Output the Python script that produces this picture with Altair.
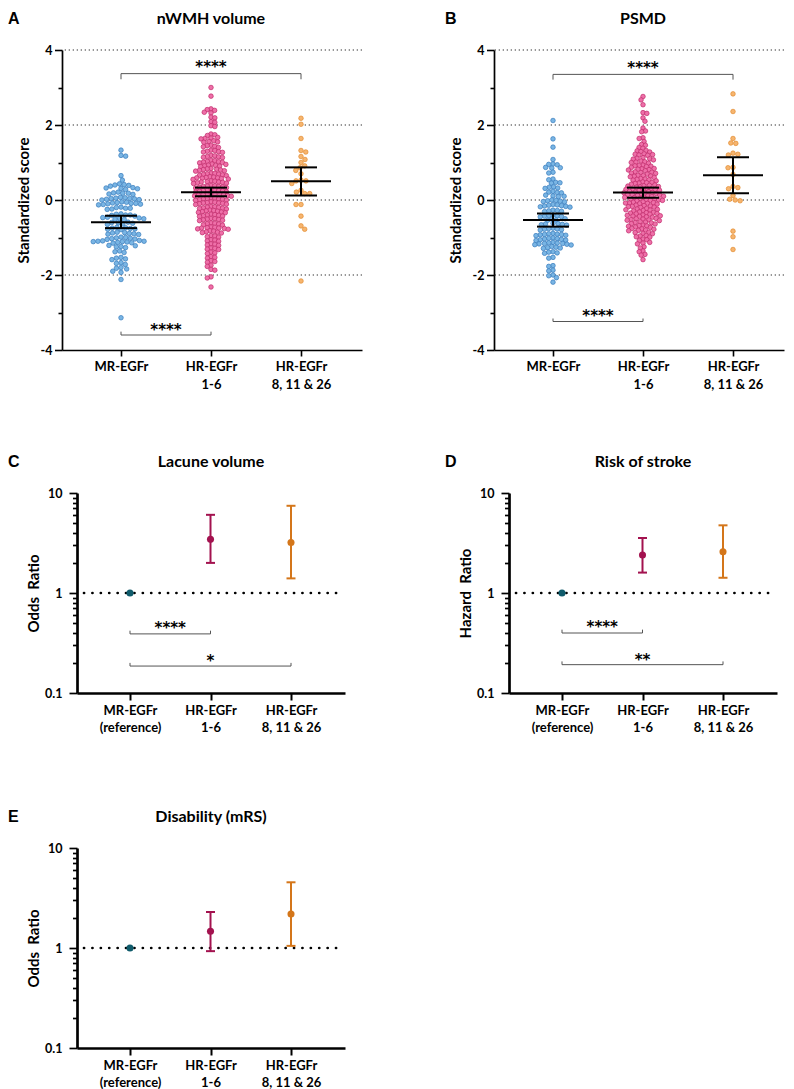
import math
import altair as alt
import pandas as pd

FONT = "Lato"
LETTER_FONT = "Liberation Sans"
STAR_FONT = "DejaVu Sans"

GROUPS = [1, 2, 3]
SWARM_LABELS = "datum.value == 1 ? 'MR-EGFr' : datum.value == 2 ? ['HR-EGFr', '1-6'] : ['HR-EGFr', '8, 11 & 26']"
OR_LABELS = "datum.value == 1 ? ['MR-EGFr', '(reference)'] : datum.value == 2 ? ['HR-EGFr', '1-6'] : ['HR-EGFr', '8, 11 & 26']"
Y_TICKS = [-4, -3, -2, -1, 0, 1, 2, 3, 4]
GRID_VALUES = [4, 2, 0, -2]
LOG_TICKS = [0.1, 0.2, 0.3, 0.4, 0.5, 0.6, 0.7, 0.8, 0.9, 1, 2, 3, 4, 5, 6, 7, 8, 9, 10]

SWARM_FILL = ["#79b5e4", "#ee6fa8", "#f6b56f"]
SWARM_STROKE = ["#3a7dbd", "#c02a6a", "#e38b2f"]
OR_COLORS = ["#0f5b6b", "#a3124f", "#d4761a"]

# ---------------- Panel A: nWMH volume ----------------
A_MR = [1.33, 1.19, 1.17,
        0.65, 0.53,
        0.43, 0.41, 0.40, 0.39, 0.37,
        0.33, 0.32, 0.31, 0.30, 0.28,
        0.21, 0.19, 0.18, 0.18, 0.16, 0.15,
        0.07, 0.06, 0.05, 0.04, 0.04, 0.03, 0.02, 0.01, 0.00,
        -0.05, -0.06, -0.07, -0.08, -0.09, -0.09, -0.10, -0.11, -0.12, -0.13,
        -0.19, -0.20, -0.22, -0.22, -0.24, -0.25,
        -0.37, -0.38, -0.40, -0.40, -0.41, -0.43,
        -0.46, -0.47, -0.48, -0.49, -0.50, -0.51, -0.52,
        -0.59, -0.60, -0.61, -0.62, -0.64, -0.65,
        -0.73, -0.74, -0.75, -0.76, -0.77, -0.78, -0.79,
        -0.86, -0.87, -0.88, -0.89, -0.90, -0.91, -0.92,
        -0.99, -1.00, -1.01, -1.02, -1.03, -1.04, -1.05,
        -1.08, -1.09, -1.10, -1.10, -1.11, -1.11, -1.12, -1.13, -1.14, -1.15,
        -1.21, -1.22, -1.24, -1.25, -1.27,
        -1.36, -1.38, -1.40,
        -1.53, -1.55, -1.57, -1.59,
        -1.67, -1.69, -1.72,
        -1.80, -1.82, -1.84,
        -1.90, -1.93,
        -2.12, -3.14]
A_HR16 = [3.00, 2.77,
          2.43, 2.41, 2.39, 2.34, 2.32, 2.21, 2.19, 2.09, 2.07, 1.98, 1.96,
          1.76, 1.74, 1.72,
          1.67, 1.65, 1.64, 1.63,
          1.58, 1.56, 1.55, 1.54,
          1.46, 1.45, 1.43, 1.42, 1.40,
          1.33, 1.32, 1.30, 1.29, 1.28, 1.27,
          1.19, 1.18, 1.16, 1.15, 1.14, 1.13,
          1.06, 1.05, 1.03, 1.02, 1.01, 1.00, 0.99,
          0.96, 0.95, 0.93, 0.92, 0.91, 0.90, 0.89,
          0.84, 0.83, 0.82, 0.81, 0.80, 0.79, 0.78, 0.77,
          0.72, 0.71, 0.70, 0.69, 0.68, 0.67, 0.66, 0.65,
          0.62, 0.61, 0.60, 0.59, 0.59, 0.58, 0.57, 0.56, 0.55,
          0.51, 0.50, 0.49, 0.48, 0.48, 0.47, 0.46, 0.45, 0.44,
          0.39, 0.38, 0.37, 0.36, 0.36, 0.35, 0.34, 0.33, 0.32,
          0.28, 0.27, 0.26, 0.25, 0.25, 0.24, 0.23, 0.22, 0.21,
          0.17, 0.16, 0.15, 0.15, 0.14, 0.14, 0.13, 0.12, 0.11, 0.10,
          0.06, 0.05, 0.04, 0.03, 0.03, 0.02, 0.01, 0.00, -0.01,
          -0.05, -0.06, -0.07, -0.08, -0.08, -0.09, -0.10, -0.11, -0.12,
          -0.17, -0.18, -0.19, -0.20, -0.21, -0.22, -0.23, -0.24,
          -0.27, -0.28, -0.29, -0.30, -0.31, -0.32, -0.33, -0.34,
          -0.38, -0.39, -0.40, -0.41, -0.42, -0.43, -0.44,
          -0.49, -0.50, -0.51, -0.52, -0.53, -0.54, -0.55,
          -0.61, -0.62, -0.63, -0.64, -0.66, -0.67,
          -0.72, -0.73, -0.74, -0.75, -0.75, -0.76, -0.77, -0.78,
          -0.82, -0.83, -0.85, -0.86, -0.87, -0.88,
          -0.95, -0.96, -0.98, -0.99,
          -1.06, -1.07, -1.09, -1.10,
          -1.17, -1.18, -1.20, -1.21,
          -1.28, -1.29, -1.31, -1.32,
          -1.39, -1.41, -1.43,
          -1.51, -1.53, -1.55,
          -1.62, -1.64, -1.66,
          -1.74, -1.77,
          -1.85, -1.87,
          -2.05, -2.08,
          -2.32]
A_HR8 = [2.18, 2.02, 1.64, 1.32, 1.28, 1.16, 1.08, 1.00, 0.91, 0.86, 0.79, 0.70,
         0.53, 0.51, 0.51, 0.44, 0.26, 0.21, 0.17, 0.17, -0.12, -0.12, -0.43,
         -0.69, -0.78, -2.16]
A_MEAN = [-0.59, 0.21, 0.50]
A_LO = [-0.75, 0.10, 0.12]
A_HI = [-0.42, 0.33, 0.87]
A_BR_X1 = [1, 1]
A_BR_X2 = [3, 2]
A_BR_Y = [3.37, -3.60]
A_BR_END = [3.22, -3.51]
A_BR_TEXT = ["****", "****"]
A_BR_TX = [2, 1.5]
A_BR_TY = [3.65, -3.35]

# ---------------- Panel B: PSMD ----------------
B_MR = [2.12, 1.63, 1.41, 1.08,
        0.96, 0.95, 0.94,
        0.87, 0.86, 0.85,
        0.74, 0.72,
        0.56, 0.54,
        0.47, 0.46, 0.45,
        0.35, 0.34, 0.32, 0.31,
        0.23, 0.21, 0.20, 0.19,
        0.13, 0.11, 0.10, 0.09,
        0.00, -0.01, -0.02, -0.03, -0.04, -0.05,
        -0.12, -0.13, -0.14, -0.15, -0.16, -0.17, -0.18, -0.19,
        -0.27, -0.28, -0.29, -0.30, -0.31,
        -0.40, -0.41, -0.42, -0.43, -0.44, -0.45,
        -0.50, -0.51, -0.53, -0.54,
        -0.62, -0.63, -0.64, -0.65, -0.66, -0.67,
        -0.75, -0.76, -0.77, -0.78, -0.79, -0.80,
        -0.89, -0.90, -0.91, -0.92, -0.92, -0.93, -0.94, -0.95,
        -1.01, -1.02, -1.03, -1.04, -1.05, -1.06, -1.07, -1.08,
        -1.13, -1.14, -1.15, -1.16, -1.16, -1.17, -1.18, -1.19, -1.20,
        -1.24, -1.26, -1.27, -1.28, -1.29,
        -1.38, -1.39, -1.41, -1.42,
        -1.53, -1.55,
        -1.75, -1.77,
        -1.87, -1.89,
        -2.00, -2.02,
        -2.07, -2.19]
B_HR16 = [2.76, 2.67, 2.54,
          2.33, 2.31,
          2.19, 2.10, 1.92,
          1.84, 1.82,
          1.66, 1.64,
          1.56,
          1.48, 1.46,
          1.40, 1.38,
          1.32, 1.31, 1.29, 1.28,
          1.23, 1.22, 1.21, 1.20, 1.19,
          1.13, 1.11, 1.10, 1.09, 1.07,
          1.04, 1.02, 1.01, 1.00, 0.98,
          0.93, 0.92, 0.91, 0.90, 0.89, 0.87,
          0.84, 0.83, 0.82, 0.81, 0.80, 0.78,
          0.75, 0.74, 0.73, 0.72, 0.71, 0.69,
          0.66, 0.65, 0.64, 0.63, 0.62, 0.60,
          0.57, 0.56, 0.55, 0.54, 0.53, 0.51,
          0.48, 0.47, 0.46, 0.45, 0.44, 0.42,
          0.40, 0.39, 0.38, 0.37, 0.36, 0.35, 0.34,
          0.31, 0.30, 0.29, 0.28, 0.28, 0.27, 0.26, 0.25,
          0.23, 0.22, 0.21, 0.20, 0.19, 0.18, 0.17, 0.16, 0.15,
          0.14, 0.13, 0.12, 0.11, 0.10, 0.09, 0.08, 0.07, 0.06,
          0.04, 0.03, 0.02, 0.01, 0.00, -0.01, -0.01, -0.02,
          -0.05, -0.06, -0.07, -0.08, -0.08, -0.09, -0.10, -0.11,
          -0.14, -0.15, -0.16, -0.17, -0.18, -0.19, -0.20,
          -0.23, -0.24, -0.25, -0.26, -0.27, -0.28, -0.29,
          -0.32, -0.33, -0.34, -0.35, -0.36, -0.37, -0.38,
          -0.40, -0.41, -0.42, -0.43, -0.44, -0.45, -0.46,
          -0.49, -0.50, -0.51, -0.52, -0.53, -0.54, -0.55,
          -0.58, -0.59, -0.60, -0.61, -0.63, -0.64,
          -0.67, -0.68, -0.69, -0.70, -0.72, -0.73,
          -0.76, -0.77, -0.78, -0.80, -0.81, -0.82,
          -0.86, -0.87, -0.89, -0.90,
          -0.95, -0.96, -0.98, -0.99,
          -1.04, -1.06, -1.08,
          -1.13, -1.15, -1.17,
          -1.25, -1.28,
          -1.36, -1.38,
          -1.45, -1.47,
          -1.59]
B_HR8 = [2.83, 2.36, 1.64, 1.52, 1.51, 1.25, 1.22, 1.20, 0.87, 0.86, 0.68,
         0.36, 0.33, 0.30, 0.12, 0.02, 0.00, -0.02, -0.83, -0.98, -1.32]
B_MEAN = [-0.53, 0.20, 0.66]
B_LO = [-0.71, 0.06, 0.18]
B_HI = [-0.36, 0.33, 1.14]
B_BR_X1 = [1, 1]
B_BR_X2 = [3, 2]
B_BR_Y = [3.35, -3.24]
B_BR_END = [3.21, -3.16]
B_BR_TEXT = ["****", "****"]
B_BR_TX = [2, 1.5]
B_BR_TY = [3.63, -2.98]

# ---------------- Panels C-E: ratios ----------------
C_EST = [1.0, 3.44, 3.20]
C_LO = [None, 2.00, 1.40]
C_HI = [None, 6.05, 7.45]
C_BR_X1 = [1, 1]
C_BR_X2 = [2, 3]
C_BR_Y = [0.39, 0.186]
C_BR_END = [0.42, 0.20]
C_BR_TEXT = ["****", "*"]
C_BR_TX = [1.5, 2]
C_BR_TY = [0.49, 0.227]

D_EST = [1.0, 2.40, 2.59]
D_LO = [None, 1.60, 1.42]
D_HI = [None, 3.55, 4.75]
D_BR_X1 = [1, 1]
D_BR_X2 = [2, 3]
D_BR_Y = [0.398, 0.192]
D_BR_END = [0.43, 0.207]
D_BR_TEXT = ["****", "**"]
D_BR_TX = [1.5, 2]
D_BR_TY = [0.497, 0.236]

E_EST = [1.0, 1.47, 2.19]
E_LO = [None, 0.93, 1.05]
E_HI = [None, 2.29, 4.54]

HEAD_Y = -31  # vertical position of panel letters / titles above each plot


def beeswarm(values, ppu, d):
    """Greedy beeswarm layout: horizontal pixel offsets so dots do not overlap."""
    order = sorted(range(len(values)), key=lambda i: -values[i])
    placed = []
    out = [0.0] * len(values)
    for k, i in enumerate(order):
        y = values[i] * ppu
        near = [(py, px) for (py, px) in placed if abs(py - y) < d]
        cands = [0.0]
        for py, px in near:
            dx = math.sqrt(max(d * d - (py - y) ** 2, 0.0))
            cands.append(px + dx)
            cands.append(px - dx)
        sgn = 1 if k % 2 else -1
        cands.sort(key=lambda c: (round(abs(c), 6), sgn * c))
        for c in cands:
            if all((c - px) ** 2 + (y - py) ** 2 >= d * d - 1e-6 for py, px in near):
                out[i] = c
                break
        placed.append((y, out[i]))
    return out


def text_layer(txt, x, y, font, size, align="center"):
    return alt.Chart(pd.DataFrame({"t": [txt]})).mark_text(
        font=font, fontWeight="bold", fontSize=size, align=align, baseline="middle", color="black"
    ).encode(text="t:N", x=alt.value(x), y=alt.value(y))


def bracket_layers(X, Y, x1, x2, yb, yend, labels, tx, ty):
    br = pd.DataFrame({"bx1": x1, "bx2": x2, "by": yb, "bend": yend,
                       "lab": labels, "tx": tx, "ty": ty})
    base = alt.Chart(br)
    hl = base.mark_rule(color="#555555", strokeWidth=1).encode(x=X("bx1"), x2="bx2", y=Y("by"))
    le = base.mark_rule(color="#555555", strokeWidth=1).encode(x=X("bx1"), y=Y("by"), y2="bend")
    re = base.mark_rule(color="#555555", strokeWidth=1).encode(x=X("bx2"), y=Y("by"), y2="bend")
    st = base.mark_text(font=STAR_FONT, fontWeight="bold", fontSize=15, dy=4, color="black").encode(
        x=X("tx"), y=Y("ty"), text="lab:N")
    return [hl, le, re, st]


def swarm_panel(letter, title, vals, means, los, his, brx1, brx2, bry, brend, brtext, brtx, brty,
                width, letter_dx, dots):
    height = 300
    ppu = height / 8.0
    ux = 90.0
    xmin = 1 - 59 / ux
    xmax = xmin + width / ux
    rows = []
    for g, vs, dd in zip(GROUPS, vals, dots):
        offs = beeswarm(vs, ppu, dd)
        for v, o in zip(vs, offs):
            rows.append({"grp": g, "xp": g + o / ux, "v": v})
    pts = pd.DataFrame(rows)
    xs = alt.Scale(domain=[xmin, xmax], nice=False, zero=False)
    ys = alt.Scale(domain=[-4, 4], nice=False, zero=False)
    xaxis = alt.Axis(values=GROUPS, labelExpr=SWARM_LABELS, title=None, tickSize=6, tickWidth=1.6,
                     domainWidth=1.7, labelPadding=4, labelFontSize=13, labelLineHeight=18.5,
                     labelFlush=False, labelOverlap=False, labelAngle=0, grid=False)
    yaxis = alt.Axis(values=Y_TICKS,
                     labelExpr="datum.value % 2 == 0 ? (datum.value < 0 ? '-' + abs(datum.value) : '' + datum.value) : ''",
                     tickSize={"condition": {"test": "datum.value % 2 != 0", "value": 4}, "value": 7.5},
                     tickWidth=1.6, domainWidth=1.7, labelPadding=2.5, labelFontSize=12.5,
                     title="Standardized score", titleFontSize=15, titlePadding=9,
                     labelOverlap=False, labelFlush=False, grid=False)

    def X(f):
        return alt.X(f, type="quantitative", scale=xs, axis=xaxis)

    def Y(f):
        return alt.Y(f, type="quantitative", scale=ys, axis=yaxis)

    grid = alt.Chart(pd.DataFrame({"g": GRID_VALUES})).mark_rule(
        strokeDash=[1.3, 2.7], color="#333333", strokeWidth=1.1).encode(y=Y("g"))
    pts_layer = alt.Chart(pts).mark_circle(size=21, opacity=1, strokeWidth=0.7).encode(
        x=X("xp"), y=Y("v"),
        fill=alt.Fill("grp:N", scale=alt.Scale(domain=GROUPS, range=SWARM_FILL), legend=None),
        stroke=alt.Stroke("grp:N", scale=alt.Scale(domain=GROUPS, range=SWARM_STROKE), legend=None))
    summ = alt.Chart(pd.DataFrame({"grp": GROUPS, "m": means, "lo": los, "hi": his}))
    ci = summ.mark_rule(color="black", strokeWidth=2).encode(x=X("grp"), y=Y("lo"), y2="hi")
    mean_l = summ.mark_tick(orient="horizontal", size=60, thickness=2, color="black", opacity=1).encode(
        x=X("grp"), y=Y("m"))
    cap_lo = summ.mark_tick(orient="horizontal", size=32, thickness=2, color="black", opacity=1).encode(
        x=X("grp"), y=Y("lo"))
    cap_hi = summ.mark_tick(orient="horizontal", size=32, thickness=2, color="black", opacity=1).encode(
        x=X("grp"), y=Y("hi"))
    layers = [grid] + bracket_layers(X, Y, brx1, brx2, bry, brend, brtext, brtx, brty) + [
        pts_layer, ci, mean_l, cap_lo, cap_hi,
        text_layer(title, 149, HEAD_Y, FONT, 16),
        text_layer(letter, letter_dx, HEAD_Y, LETTER_FONT, 16, align="left")]
    return alt.layer(*layers).properties(width=width, height=height)


def ratio_panel(letter, title, ytitle, est, lo, hi, brackets, letter_dx, shift):
    # shift: left inset (px) of the drawn plot inside the view, so that panels in one
    # column can start at different horizontal positions
    plot_w, height = 268, 200
    width = plot_w + shift
    ux = 80.5
    xmin = 1 - 53 / ux
    xmax = xmin + plot_w / ux
    xs = alt.Scale(domain=[xmin, xmax], range=[shift, width], nice=False, zero=False)
    ys = alt.Scale(type="log", domain=[0.1, 10], nice=False)
    xaxis = alt.Axis(values=GROUPS, labelExpr=OR_LABELS, title=None, tickSize=7, tickWidth=2,
                     domainWidth=2.7, labelPadding=4, labelFontSize=13, labelLineHeight=17,
                     labelFlush=False, labelOverlap=False, labelAngle=0, grid=False)
    yaxis = alt.Axis(values=LOG_TICKS,
                     labelExpr="datum.value == 0.1 ? '0.1' : datum.value == 1 ? '1' : datum.value == 10 ? '10' : ''",
                     tickSize={"condition": {"test": "datum.value == 0.1 || datum.value == 1 || datum.value == 10",
                                             "value": 8}, "value": 4.5},
                     tickWidth=1.7, domainWidth=2.7, labelPadding=7, labelFontSize=12.5,
                     title=ytitle, titleFontSize=15, titlePadding=3, offset=-shift,
                     labelOverlap=False, labelFlush=False, grid=False)

    def X(f):
        return alt.X(f, type="quantitative", scale=xs, axis=xaxis)

    def Y(f):
        return alt.Y(f, type="quantitative", scale=ys, axis=yaxis)

    ref = alt.Chart(pd.DataFrame({"r": [1]})).mark_rule(
        strokeDash=[0.1, 8.3], strokeCap="round", strokeWidth=2.7, color="black").encode(
        y=Y("r"), x=alt.value(shift + 7), x2=alt.value(shift + 261))
    df = pd.DataFrame({"grp": GROUPS, "est": est, "lo": lo, "hi": hi})
    base = alt.Chart(df)
    col = alt.Color("grp:N", scale=alt.Scale(domain=GROUPS, range=OR_COLORS), legend=None)
    ci = base.transform_filter("isValid(datum.lo)").mark_rule(strokeWidth=2).encode(
        x=X("grp"), y=Y("lo"), y2="hi", color=col)
    cap_lo = base.transform_filter("isValid(datum.lo)").mark_tick(
        orient="horizontal", size=9, thickness=2, opacity=1).encode(x=X("grp"), y=Y("lo"), color=col)
    cap_hi = base.transform_filter("isValid(datum.lo)").mark_tick(
        orient="horizontal", size=9, thickness=2, opacity=1).encode(x=X("grp"), y=Y("hi"), color=col)
    pts = base.mark_circle(size=50, opacity=1).encode(x=X("grp"), y=Y("est"), color=col)
    layers = [ref]
    if brackets is not None:
        layers += bracket_layers(X, Y, *brackets)
    layers += [ci, cap_lo, cap_hi, pts,
               text_layer(title, shift + 134, HEAD_Y, FONT, 16),
               text_layer(letter, shift + letter_dx, HEAD_Y, LETTER_FONT, 16, align="left")]
    return alt.layer(*layers).properties(width=width, height=height)


panel_a = swarm_panel("A", "nWMH volume", [A_MR, A_HR16, A_HR8], A_MEAN, A_LO, A_HI,
                      A_BR_X1, A_BR_X2, A_BR_Y, A_BR_END, A_BR_TEXT, A_BR_TX, A_BR_TY,
                      width=300, letter_dx=-54, dots=[4.7, 3.9, 5.0])
panel_b = swarm_panel("B", "PSMD", [B_MR, B_HR16, B_HR8], B_MEAN, B_LO, B_HI,
                      B_BR_X1, B_BR_X2, B_BR_Y, B_BR_END, B_BR_TEXT, B_BR_TX, B_BR_TY,
                      width=290, letter_dx=-49, dots=[4.3, 3.9, 5.0])
panel_c = ratio_panel("C", "Lacune volume", "Odds\u00a0 Ratio", C_EST, C_LO, C_HI,
                      (C_BR_X1, C_BR_X2, C_BR_Y, C_BR_END, C_BR_TEXT, C_BR_TX, C_BR_TY),
                      letter_dx=-69, shift=15)
panel_d = ratio_panel("D", "Risk of stroke", "Hazard\u00a0 Ratio", D_EST, D_LO, D_HI,
                      (D_BR_X1, D_BR_X2, D_BR_Y, D_BR_END, D_BR_TEXT, D_BR_TX, D_BR_TY),
                      letter_dx=-64, shift=0)
panel_e = ratio_panel("E", "Disability (mRS)", "Odds\u00a0 Ratio", E_EST, E_LO, E_HI, None,
                      letter_dx=-69, shift=15)

row1 = alt.hconcat(panel_a, panel_b, spacing=82)
row2 = alt.hconcat(panel_c, panel_d, spacing=100)
row3 = alt.hconcat(panel_e)
lower = alt.vconcat(row2, row3, spacing=75)
chart = alt.vconcat(row1, lower, spacing=62).properties(
    padding={"left": 0, "top": 3, "right": 0, "bottom": 0}).configure_view(
    stroke=None).configure_axis(
    labelFont=FONT, labelFontWeight="bold", labelColor="black",
    titleFont=FONT, titleFontWeight="bold", titleColor="black",
    domainColor="black", tickColor="black")

chart.save("out.html", embed_options={"renderer": "svg", "actions": False})
